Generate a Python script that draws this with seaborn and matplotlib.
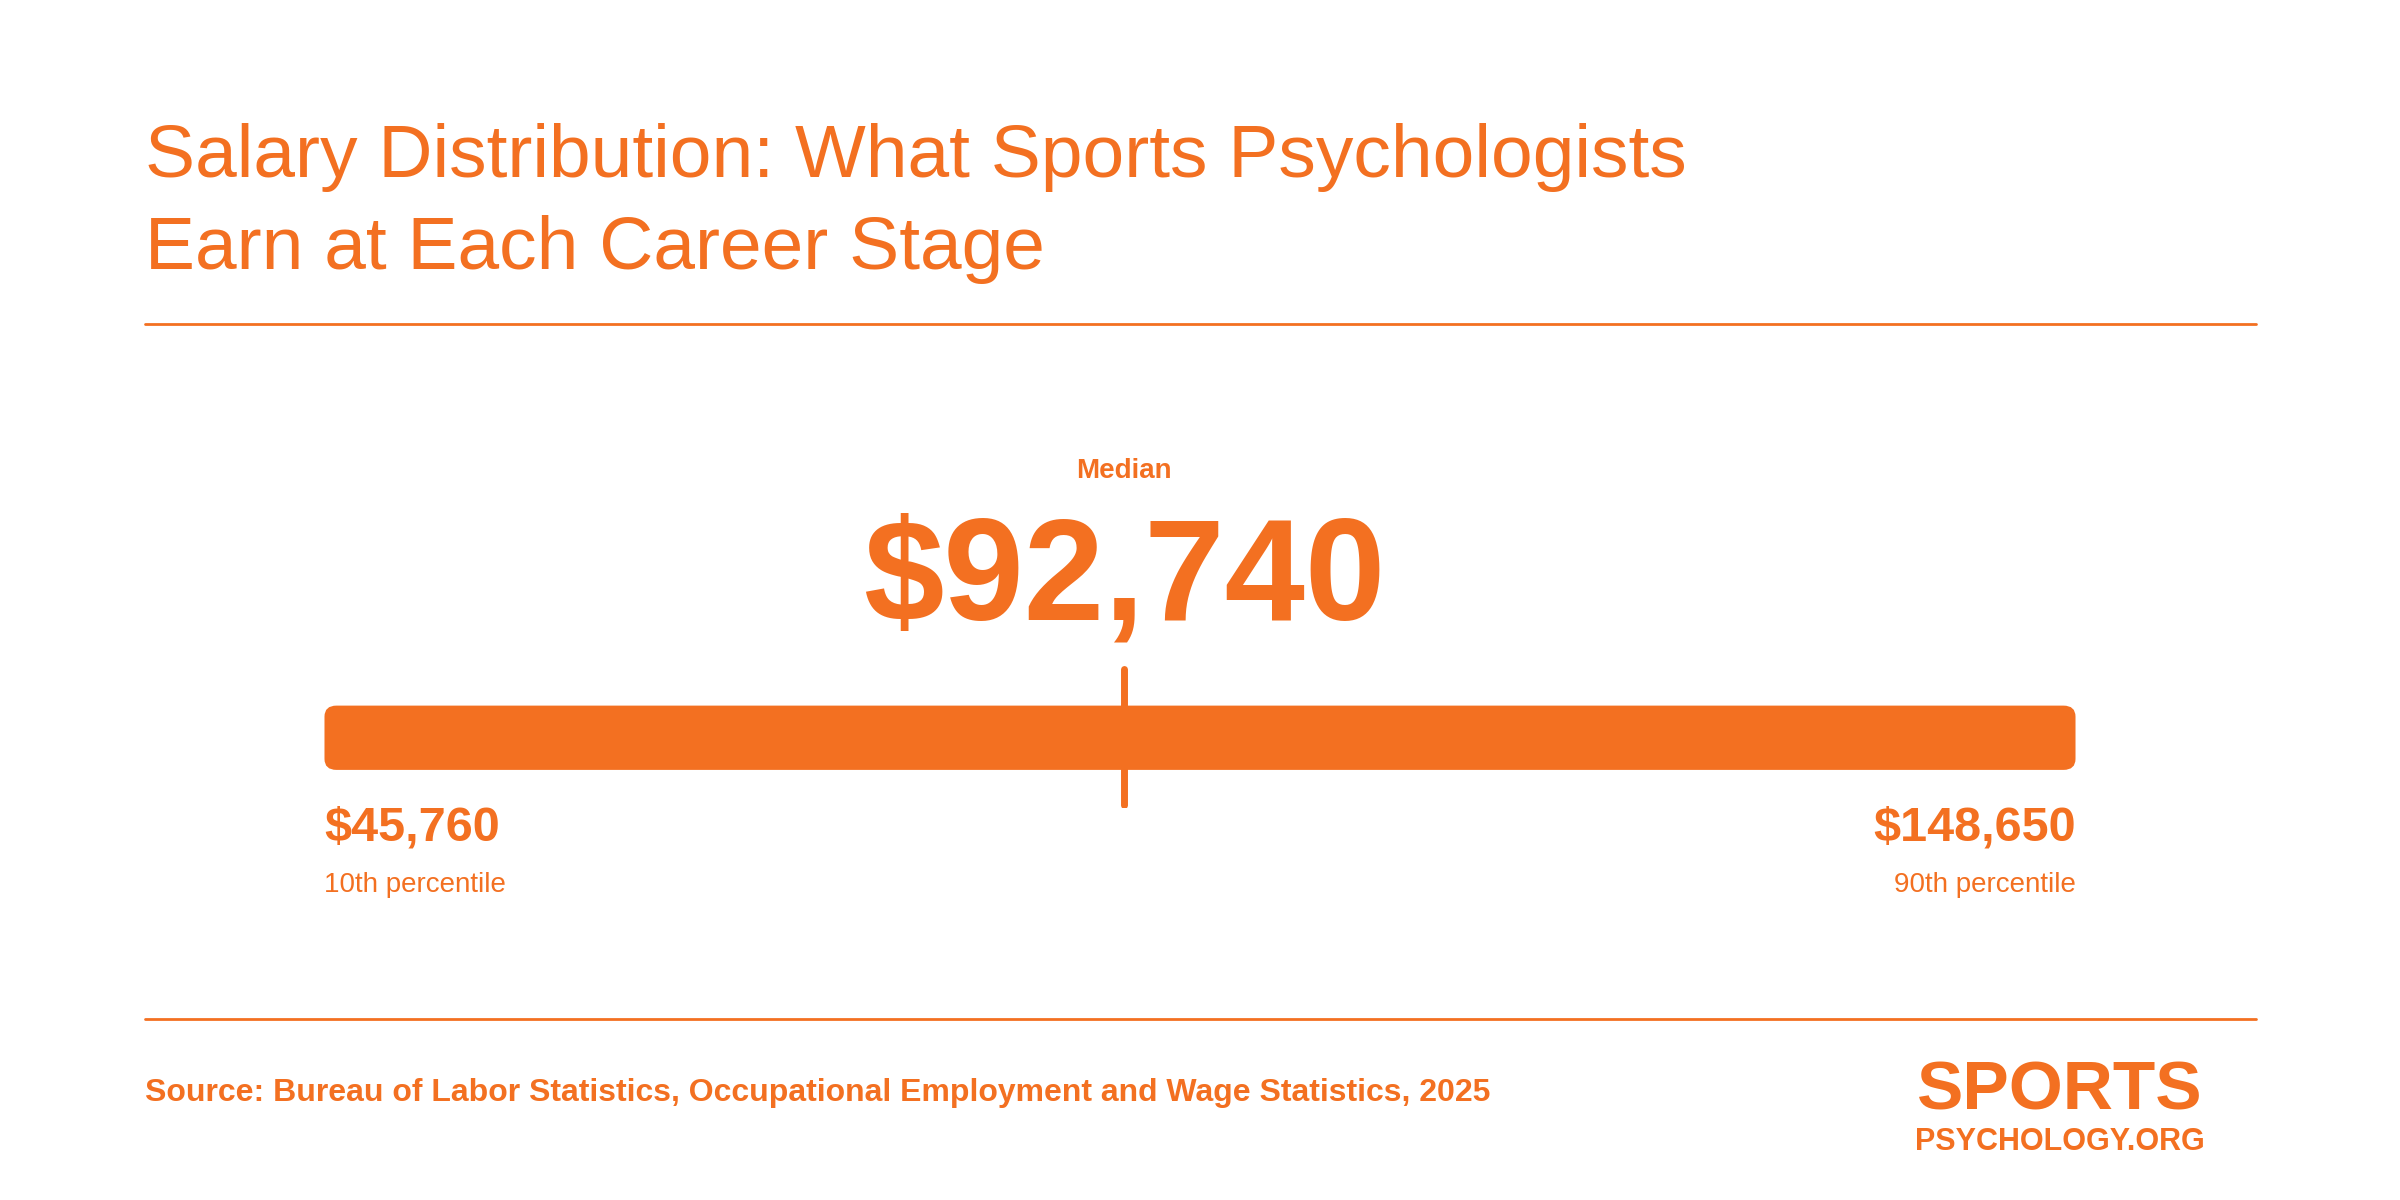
import matplotlib
matplotlib.use("Agg")
import matplotlib.pyplot as plt
import seaborn as sns
from matplotlib.patches import FancyBboxPatch

sns.set_theme(style="white")
plt.rcParams['font.family'] = ['Liberation Sans', 'DejaVu Sans']

ORANGE = "#F37021"
labels = ["10th percentile", "Median", "90th percentile"]
values = [45760, 92740, 148650]
title = "Salary Distribution: What Sports Psychologists\nEarn at Each Career Stage"
source = "Source: Bureau of Labor Statistics, Occupational Employment and Wage Statistics, 2025"

W, H = 1568, 784
fig = plt.figure(figsize=(24, 12), dpi=100)
fig.patch.set_facecolor("white")
def fx(x): return x / W
def fy(y): return 1 - y / H

fig.text(fx(95), fy(103), title.split("\n")[0], color=ORANGE, fontsize=54, va="center", ha="left")
fig.text(fx(95), fy(163), title.split("\n")[1], color=ORANGE, fontsize=54, va="center", ha="left")
for yy in (212, 666):
    fig.add_artist(plt.Line2D([fx(95), fx(1474)], [fy(yy), fy(yy)], color=ORANGE, lw=2))

ax = fig.add_axes([fx(212), fy(528), fx(1356) - fx(212), fy(435) - fy(528)])
bar_lo, bar_hi = (528 - 503) / 93, (528 - 461) / 93
sns.barplot(x=[values[2] - values[0]], y=[(bar_lo + bar_hi) / 2], orient="h", ax=ax, native_scale=True,
            color=ORANGE, saturation=1, width=0)
ax.add_patch(FancyBboxPatch((values[0], bar_lo), values[2] - values[0], bar_hi - bar_lo,
                            boxstyle="round,pad=0,rounding_size=700", mutation_aspect=0.00011,
                            fc=ORANGE, ec="none", zorder=2))
ax.plot([values[1], values[1]], [0.02, 0.98], color=ORANGE, lw=5, solid_capstyle="round", zorder=3)
ax.set_xlim(values[0], values[2])
ax.set_ylim(0, 1)
ax.axis("off")

med_x = fx(212) + (values[1] - values[0]) / (values[2] - values[0]) * (fx(1356) - fx(212))
fig.text(med_x, fy(308), labels[1], color=ORANGE, fontsize=20, fontweight="bold", ha="center", va="center")
fig.text(med_x, fy(380), f"${values[1]:,}", color=ORANGE, fontsize=104, fontweight="bold", ha="center", va="center")

fig.text(fx(212), fy(541), f"${values[0]:,}", color=ORANGE, fontsize=35, fontweight="bold", ha="left", va="center")
fig.text(fx(212), fy(578), labels[0], color=ORANGE, fontsize=20, ha="left", va="center")
fig.text(fx(1356), fy(541), f"${values[2]:,}", color=ORANGE, fontsize=35, fontweight="bold", ha="right", va="center")
fig.text(fx(1356), fy(578), labels[2], color=ORANGE, fontsize=20, ha="right", va="center")

fig.text(fx(95), fy(714), source, color=ORANGE, fontsize=23, fontweight="bold", ha="left", va="center")
fig.text(fx(1346), fy(713), "SPORTS", color=ORANGE, fontsize=50, fontweight="bold", ha="center", va="center")
fig.text(fx(1346), fy(746), "PSYCHOLOGY.ORG", color=ORANGE, fontsize=22, fontweight="bold", ha="center", va="center")

fig.savefig("out.png", dpi=100, facecolor="white")
